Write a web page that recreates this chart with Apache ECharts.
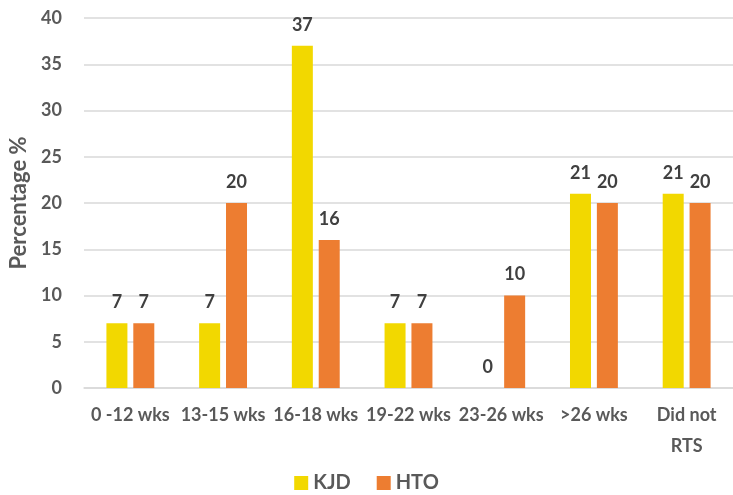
<!DOCTYPE html>
<html>
<head>
<meta charset="utf-8">
<script src="https://cdn.jsdelivr.net/npm/echarts@6/dist/echarts.min.js"></script>
<style>
  html, body { margin: 0; padding: 0; background: #fff; }
  #chart { width: 733px; height: 495px; }
</style>
</head>
<body>
<div id="chart"></div>
<script>
// Return-to-sport timing groups
const categories = ['0 -12 wks', '13-15 wks', '16-18 wks', '19-22 wks', '23-26 wks', '>26 wks', 'Did not\nRTS'];
const kjdValues = [7, 7, 37, 7, 0, 21, 21];
const htoValues = [7, 20, 16, 7, 10, 20, 20];
const yTicks = { min: 0, max: 40, interval: 5 };

const FONT = 'Lato, "Open Sans", sans-serif';
const TEXT = '#595959';

const chart = echarts.init(document.getElementById('chart'));

const labelStyle = {
  show: true,
  position: 'top',
  distance: 12,
  color: '#404040',
  fontFamily: FONT,
  fontWeight: 'bold',
  fontSize: 18
};

chart.setOption({
  animation: false,
  backgroundColor: '#fff',
  grid: { left: 83, right: -9, top: 18, bottom: 107 },
  legend: {
    bottom: -3,
    left: 'center',
    itemWidth: 14,
    itemHeight: 14,
    itemGap: 26,
    icon: 'rect',
    textStyle: { color: TEXT, fontFamily: FONT, fontWeight: 'bold', fontSize: 20 },
    data: ['KJD', 'HTO']
  },
  xAxis: {
    type: 'category',
    data: categories,
    axisLine: { lineStyle: { color: '#d9d9d9', width: 1.5 } },
    axisTick: { show: false },
    axisLabel: {
      color: TEXT, fontFamily: FONT, fontWeight: 'bold', fontSize: 18,
      margin: 12, lineHeight: 31, interval: 0
    }
  },
  yAxis: {
    type: 'value',
    min: yTicks.min,
    max: yTicks.max,
    interval: yTicks.interval,
    name: 'Percentage %',
    nameLocation: 'middle',
    nameGap: 54,
    nameTextStyle: { color: TEXT, fontFamily: FONT, fontWeight: 'bold', fontSize: 22 },
    axisLine: { show: false },
    axisTick: { show: false },
    axisLabel: { color: TEXT, fontFamily: FONT, fontWeight: 'bold', fontSize: 18, margin: 22 },
    splitLine: { lineStyle: { color: '#d9d9d9', width: 1.5 } }
  },
  series: [
    {
      name: 'KJD',
      type: 'bar',
      data: kjdValues,
      barWidth: 21,
      barGap: '28%',
      itemStyle: { color: '#F2D800' },
      label: labelStyle
    },
    {
      name: 'HTO',
      type: 'bar',
      data: htoValues,
      barWidth: 21,
      itemStyle: { color: '#ED7D31' },
      label: labelStyle
    }
  ]
});
</script>
</body>
</html>
